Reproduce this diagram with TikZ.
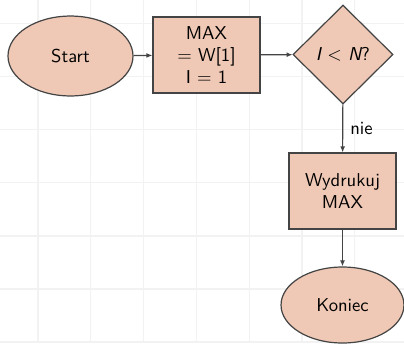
\documentclass[tikz,border=0pt]{standalone}
\usetikzlibrary{shapes.geometric,arrows.meta}
\definecolor{nodefill}{HTML}{EFC9B5}
\definecolor{edgegray}{HTML}{444444}
\begin{document}
\begin{tikzpicture}[x=0.5368pt,y=-0.5368pt,font=\sffamily,
  base/.style={draw=edgegray,fill=nodefill,line width=0.65pt,inner sep=0pt,align=center},
  term/.style={base,ellipse},
  proc/.style={base,rectangle,minimum width=57.4pt,minimum height=40.8pt},
  dec/.style={base,diamond,minimum width=53.7pt,minimum height=53.1pt},
  flow/.style={draw=edgegray,line width=0.6pt,-{Latex[length=3.2pt,width=2.6pt]}},
  gridline/.style={draw=black!5,line width=0.7pt}]
  \useasboundingbox (0,0) rectangle (404,343);
  % faint background grid
  \foreach \gx in {38,90.8,143.6,196.4,249.2,302,354.8}
    \draw[gridline] (\gx,0) -- (\gx,343);
  \foreach \gy in {23.5,76.6,129.7,182.8,235.9,289,342.1}
    \draw[gridline] (0,\gy) -- (404,\gy);

  % flowchart nodes
  \node[term,minimum width=67.1pt,minimum height=42.9pt] (start) at (70.5,56) {Start};
  \node[proc] (init) at (206.5,55) {MAX\\$=$ W[1]\\I $=$ 1};
  \node[dec] (test) at (343,54.5) {{\itshape I} $<$ {\itshape N}?};
  \node[proc] (print) at (342.5,191) {Wydrukuj\\MAX};
  \node[term,minimum width=66pt,minimum height=40.8pt] (stop) at (342.5,305) {Koniec};

  % connectors
  \draw[flow] (start) -- (init);
  \draw[flow] (init) -- (test);
  \draw[flow] (test) -- node[right,inner sep=3.8pt] (nie) {nie} (print);
  \draw[flow] (print) -- (stop);
\end{tikzpicture}
\end{document}
